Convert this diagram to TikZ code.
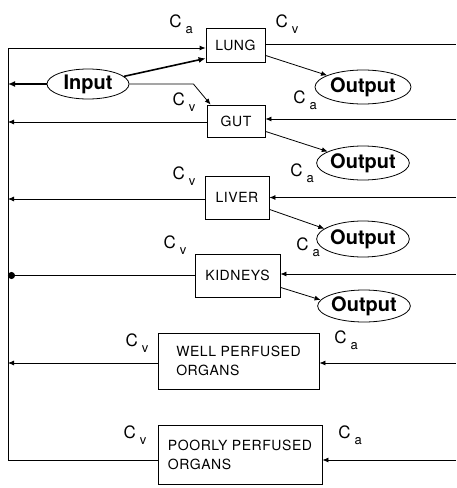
\documentclass[tikz,border=0pt]{standalone}
\usepackage{fontspec}
\setmainfont{TeX Gyre Heros}
\usetikzlibrary{shapes.geometric, arrows.meta, positioning}
\newcommand{\conc}[1]{C\kern4pt\raisebox{-6pt}{\fontsize{13}{13}\selectfont #1}}

\begin{document}
\begin{tikzpicture}[x=1pt, y=-1pt,
    organ/.style={
        draw,
        line width=0.8pt,
        inner sep=0pt,
        align=left,
        font=\fontsize{14}{19}\selectfont\addfontfeatures{LetterSpace=4}
    },
    port/.style={
        draw,
        ellipse,
        line width=0.8pt,
        inner sep=0pt,
        font=\fontsize{20}{20}\selectfont\bfseries
    },
    conclabel/.style={
        inner sep=0pt,
        font=\fontsize{17}{17}\selectfont
    },
    flow/.style={
        line width=0.8pt,
        -{Latex[length=6pt, width=5pt]}
    },
    dose/.style={
        line width=1.6pt,
        -{Latex[length=7pt, width=6pt]}
    }
]
\useasboundingbox (0,0) rectangle (456,488);

% Organ boxes
\node[organ, minimum width=59, minimum height=34] (lung) at (235.5,45) {LUNG};
\node[organ, minimum width=58, minimum height=32] (gut) at (236,121) {GUT};
\node[organ, minimum width=64, minimum height=43] (liver) at (237,197.5) {LIVER};
\node[organ, minimum width=85, minimum height=43] (kidneys) at (237.5,275.5) {KIDNEYS};
\node[organ, minimum width=161, minimum height=56] (well) at (238.5,361) {WELL PERFUSED\\ORGANS};
\node[organ, minimum width=164, minimum height=59] (poorly) at (240,454.5) {POORLY PERFUSED\\ORGANS};

% Input and outputs
\node[port, minimum width=82, minimum height=30] (input) at (88,84) {Input};
\node[port, minimum width=96, minimum height=34] (out1) at (363,87) {Output};
\node[port, minimum width=90, minimum height=34] (out2) at (363,163) {Output};
\node[port, minimum width=89, minimum height=36] (out3) at (363,239) {Output};
\node[port, minimum width=88, minimum height=32] (out4) at (364,306) {Output};

% Venous bus on the left, arterial side on the right
\coordinate (bustop) at (8,48);
\coordinate (busbot) at (8,460);
\coordinate (rim) at (456,0);

\draw[flow] (busbot -| poorly.west) -- (busbot) -- (bustop) -- (bustop -| lung.west);
\draw[dose] (input.west) -- (input.west -| bustop);
\draw[dose] (input.12) -- ([yshift=4pt]lung.south west);
\draw[flow] (input.east) -- ++(64,0) -- ([xshift=4pt]gut.north west);

% Right-hand side
\draw[line width=0.8pt] ([yshift=1pt]lung.east) -- ([yshift=1pt]lung.east -| rim);
\draw[flow] ([yshift=2pt]gut.east -| rim) -- ([yshift=2pt]gut.east);
\draw[flow] (liver.east -| rim) -- (liver.east);
\draw[flow] ([yshift=1.5pt]kidneys.east -| rim) -- ([yshift=1.5pt]kidneys.east);
\draw[flow] ([yshift=-2pt]well.east -| rim) -- ([yshift=-2pt]well.east);
\draw[flow] (busbot -| rim) -- (busbot -| poorly.east);

% Left-hand side
\draw[flow] ([yshift=-1pt]gut.west) -- ([yshift=-1pt]gut.west -| bustop);
\draw[flow] ([yshift=-1.5pt]liver.west) -- ([yshift=-1.5pt]liver.west -| bustop);
\draw[line width=0.8pt, -{Circle[length=7pt]}] (kidneys.west) -- (kidneys.west -| bustop);
\draw[flow] ([yshift=-2pt]well.west) -- ([yshift=-2pt]well.west -| bustop);

% Elimination
\draw[flow] ([yshift=7pt]lung.south east) -- (out1.162);
\draw[flow] ([yshift=6pt]gut.south east) -- (out2.162);
\draw[flow] ([yshift=10pt]liver.south east) -- (out3.165);
\draw[flow] ([yshift=10pt]kidneys.south east) -- (out4.172);

% Concentration labels
\node[conclabel] (ca1) at (181,24) {\conc{a}};
\node[conclabel] (cv1) at (287,24) {\conc{v}};
\node[conclabel] (cv2) at (184,102) {\conc{v}};
\node[conclabel] (ca2) at (305,100) {\conc{a}};
\node[conclabel] (cv3) at (184,176) {\conc{v}};
\node[conclabel] (ca3) at (302,173) {\conc{a}};
\node[conclabel] (cv4) at (175,245) {\conc{v}};
\node[conclabel] (ca4) at (308,247) {\conc{a}};
\node[conclabel] (cv5) at (137,343) {\conc{v}};
\node[conclabel] (ca5) at (346,340) {\conc{a}};
\node[conclabel] (cv6) at (135,435) {\conc{v}};
\node[conclabel] (ca6) at (350,435) {\conc{a}};

\end{tikzpicture}
\end{document}
